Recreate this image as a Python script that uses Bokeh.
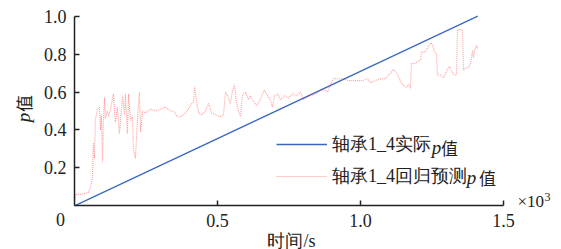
import math
from bokeh.plotting import figure
from bokeh.models import Range1d, FixedTicker, Label, Legend, LegendItem
from bokeh.embed import file_html
from bokeh.resources import INLINE

# ---- data ----
actual_t = [0, 1410]
actual_p = [0.0, 1.0]

pred_t = [0, 3.5, 21, 38, 49, 56, 63, 66, 70, 73, 80, 87, 91, 94, 98, 101, 105, 108, 115, 119,
          126, 136, 143, 150, 157, 161, 168, 175, 178, 185, 189, 196, 203, 206, 213, 220, 227, 231,
          238, 248, 266, 283, 301, 318, 336, 346, 360, 371, 388, 406, 416, 420, 427, 434, 444, 458,
          469, 479, 493, 510, 521, 528, 535, 545, 552, 559, 566, 573, 580, 587, 598, 608, 615, 626,
          636, 647, 657, 664, 675, 685, 692, 699, 710, 720, 734, 748, 762, 776, 790, 801, 811, 825,
          843, 860, 878, 885, 895, 906, 923, 941, 958, 976, 993, 1007, 1024, 1035, 1052, 1070, 1087,
          1098, 1105, 1115, 1126, 1136, 1143, 1150, 1161, 1168, 1175, 1178, 1189, 1199, 1210, 1213,
          1224, 1234, 1245, 1252, 1259, 1266, 1269, 1280, 1290, 1301, 1311, 1322, 1329, 1336, 1339,
          1350, 1357, 1360, 1367, 1378, 1385, 1392, 1395, 1399, 1406, 1409]
pred_p = [0.02, 0.06, 0.06, 0.065, 0.07, 0.10, 0.15, 0.33, 0.25, 0.45, 0.51, 0.52, 0.40, 0.48, 0.23,
          0.45, 0.57, 0.46, 0.50, 0.47, 0.51, 0.59, 0.44, 0.52, 0.38, 0.45, 0.58, 0.48, 0.59, 0.38,
          0.59, 0.45, 0.47, 0.30, 0.25, 0.45, 0.60, 0.39, 0.50, 0.49, 0.51, 0.50, 0.51, 0.52, 0.50,
          0.50, 0.47, 0.47, 0.49, 0.53, 0.55, 0.63, 0.55, 0.49, 0.48, 0.50, 0.54, 0.49, 0.48, 0.47,
          0.48, 0.60, 0.58, 0.54, 0.60, 0.64, 0.55, 0.50, 0.47, 0.58, 0.60, 0.56, 0.58, 0.55, 0.53,
          0.55, 0.59, 0.61, 0.58, 0.56, 0.52, 0.58, 0.59, 0.56, 0.58, 0.57, 0.59, 0.58, 0.60, 0.56,
          0.57, 0.58, 0.59, 0.61, 0.61, 0.60, 0.64, 0.67, 0.67, 0.67, 0.66, 0.66, 0.66, 0.66, 0.67,
          0.65, 0.66, 0.67, 0.67, 0.69, 0.70, 0.72, 0.70, 0.67, 0.65, 0.635, 0.625, 0.64, 0.62, 0.75,
          0.75, 0.76, 0.77, 0.81, 0.81, 0.83, 0.86, 0.85, 0.81, 0.80, 0.69, 0.69, 0.675, 0.71, 0.735,
          0.70, 0.69, 0.69, 0.93, 0.93, 0.92, 0.715, 0.725, 0.73, 0.75, 0.82, 0.78, 0.82, 0.845, 0.83]

x_ticks = [500, 1000, 1500]
x_tick_labels = ["0.5", "1.0", "1.5"]
y_ticks = [0.2, 0.4, 0.6, 0.8, 1.0]
y_tick_labels = ["0.2", "0.4", "0.6", "0.8", "1.0"]
legend_names = ["轴承1_4实际", "轴承1_4回归预测"]

SERIF = "Liberation Serif"
CJK = "Noto Sans CJK SC"
INK = "#222222"

# ---- layout geometry (pixels) ----
W, H = 561, 249
X0_PX, X1_PX = 74.0, 503.0      # x = 0 and x = 1500 positions
Y0_PX, Y1_PX = 205.3, 15.7      # y = 0 and y = 1.0 positions (from top)
sx = (X1_PX - X0_PX) / 1500.0
sy = (Y0_PX - Y1_PX) / 1.0

p = figure(width=W, height=H, output_backend="svg", toolbar_location=None,
           x_range=Range1d(-X0_PX / sx, (W - X0_PX) / sx),
           y_range=Range1d(-(H - Y0_PX) / sy, Y0_PX / sy),
           min_border=0)
p.min_border_left = p.min_border_right = p.min_border_top = p.min_border_bottom = 0
p.outline_line_color = None
p.border_fill_color = "white"
p.grid.visible = False
p.background_fill_color = "white"

r_act = p.line(actual_t, actual_p, line_color="#3a68c0", line_width=1.3)
r_pred = p.line(pred_t, pred_p, line_color="#ff4a4a", line_alpha=0.55, line_width=1.1, line_dash="1 1")

for ax in (p.xaxis[0], p.yaxis[0]):
    ax.fixed_location = 0
    ax.axis_line_color = INK
    ax.axis_line_width = 1.5
    ax.major_tick_line_color = INK
    ax.major_tick_line_width = 1.5
    ax.major_tick_in = 5
    ax.major_tick_out = 0
    ax.minor_tick_line_color = None
    ax.major_label_text_font = SERIF
    ax.major_label_text_font_size = "18px"
    ax.major_label_text_color = INK

p.xaxis.bounds = (0, 1500)
p.yaxis.bounds = (0, 1.0)
p.xaxis.ticker = FixedTicker(ticks=x_ticks)
p.xaxis.major_label_overrides = {t: s for t, s in zip(x_ticks, x_tick_labels)}
p.yaxis.ticker = FixedTicker(ticks=y_ticks)
p.yaxis.major_label_overrides = {t: s for t, s in zip(y_ticks, y_tick_labels)}
p.xaxis.major_label_standoff = 8
p.yaxis.major_label_standoff = 8


def add_text(x_px, y_px, text, font=SERIF, size="18px", style="normal", align="center", angle=0.0):
    """Place text at page pixel position (x_px, y_px measured from top)."""
    p.add_layout(Label(x=x_px, y=H - y_px, x_units="screen", y_units="screen", text=text,
                       angle=angle, text_font=font, text_font_size=size, text_font_style=style,
                       text_align=align, text_baseline="middle", text_color=INK))


# axis titles, origin label and exponent
add_text(291, 240, "时间/s")
add_text(60, 219, "0")
add_text(517, 201, "×10", size="17px", align="left")
add_text(544, 196, "3", size="12px", align="left")
add_text(23, 117, "p", style="italic", size="19px", angle=math.pi / 2)
add_text(23, 103, "值", font=CJK, size="17px", angle=math.pi / 2)

legend = Legend(items=[LegendItem(label=legend_names[0], renderers=[r_act]),
                       LegendItem(label=legend_names[1], renderers=[r_pred])],
                location=(276, 61), padding=0, margin=0, spacing=8,
                glyph_width=51, glyph_height=20, label_height=20, label_standoff=5,
                border_line_alpha=0, background_fill_alpha=0,
                label_text_font=SERIF, label_text_font_size="18px", label_text_color=INK)
p.add_layout(legend)

# italic p + 值 after legend texts
for (px_, vx_, ly) in [(436, 449, 147), (471, 487, 177)]:
    add_text(px_, ly, "p", style="italic", size="19px")
    add_text(vx_, ly, "值", font=CJK, size="17px")

open("out.html", "w").write(file_html(p, INLINE))
